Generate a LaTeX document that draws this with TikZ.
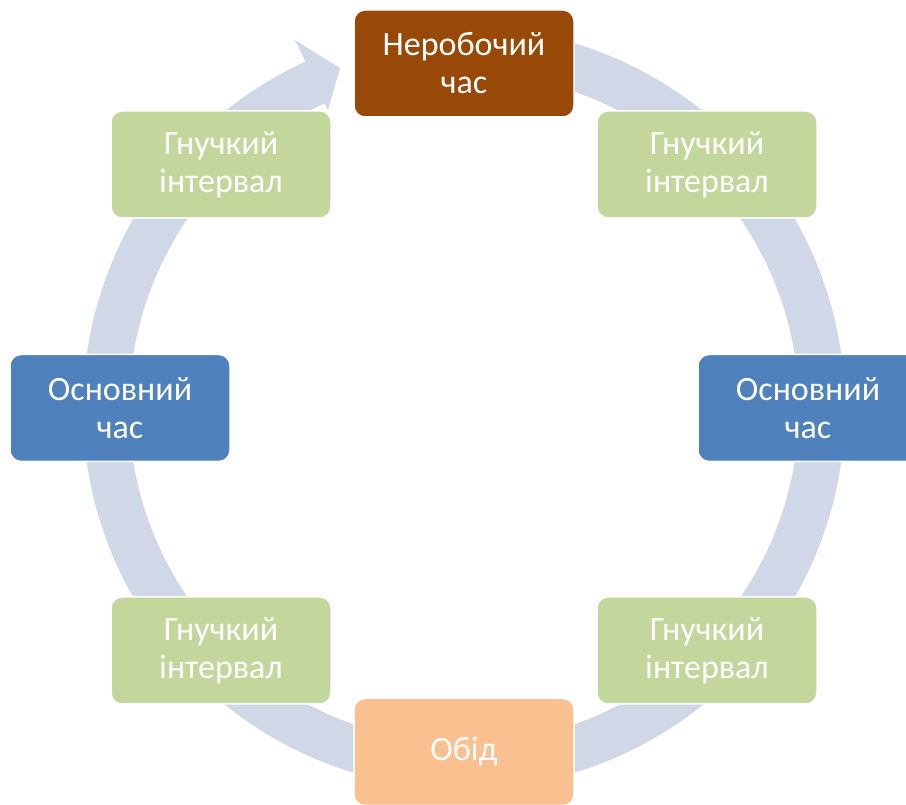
\documentclass[tikz,border=0pt]{standalone}
\usepackage{fontspec}
\setmainfont{Carlito}
\usetikzlibrary{calc}
\definecolor{ringc}{HTML}{D0D8E8}
\definecolor{brownc}{HTML}{984807}
\definecolor{greenc}{HTML}{C3D69B}
\definecolor{bluec}{HTML}{4F81BD}
\definecolor{orangec}{HTML}{FAC090}
\tikzset{
  box/.style={rectangle, rounded corners=11pt, minimum width=220pt, minimum height=107pt,
    draw=white, line width=1.5pt, text=white, align=center,
    font=\fontsize{34}{38}\selectfont, inner sep=0pt},
  brownbox/.style={box, fill=brownc},
  greenbox/.style={box, fill=greenc},
  bluebox/.style={box, fill=bluec},
  orangebox/.style={box, fill=orangec}
}
\begin{document}
\begin{tikzpicture}[x=1pt,y=1pt]
\clip (0,0) rectangle (906,805);
\fill[white] (0,0) rectangle (906,805);
\coordinate (C) at (464,397);
% ring with arrowhead
\begin{scope}[shift={(464,397)}]
\fill[ringc] (85:381pt) arc[start angle=85, end angle=-245.4, radius=381pt]
  -- (-169,368) -- (-124,340) -- (-136,298)
  -- (114.6:335pt) arc[start angle=114.6, end angle=445, radius=335pt] -- cycle;
\end{scope}
% nodes
\node[brownbox]  (top) at (464,741.5) {Неробочий\\час};
\node[greenbox]  (tr)  at (707,640.5) {Гнучкий\\інтервал};
\node[bluebox]   (r)   at (808,397)   {Основний\\час};
\node[greenbox]  (br)  at (707,154.5) {Гнучкий\\інтервал};
\node[orangebox] (bot) at (464,53)    {Обід};
\node[greenbox]  (bl)  at (221,154.5) {Гнучкий\\інтервал};
\node[bluebox]   (l)   at (120,397)   {Основний\\час};
\node[greenbox]  (tl)  at (221,640.5) {Гнучкий\\інтервал};
\end{tikzpicture}
\end{document}
